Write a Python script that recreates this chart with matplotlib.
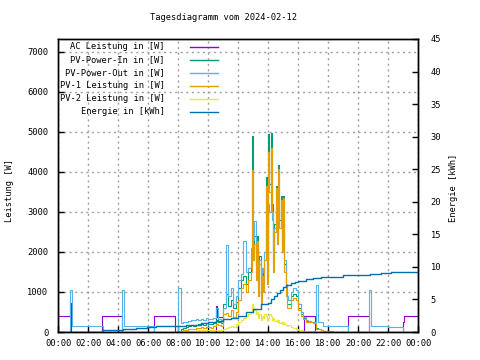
import matplotlib
matplotlib.use("Agg")
import matplotlib.pyplot as plt
from matplotlib.lines import Line2D
import pandas as pd

# ---------------- data ----------------
title = "Tagesdiagramm vom 2024-02-12"
labels = ["AC Leistung in [W]", "PV-Power-In in [W]", "PV-Power-Out in [W]",
          "PV-1 Leistung in [W]", "PV-2 Leistung in [W]", "Energie in [kWh]"]
colors = ["#9400d3", "#009e73", "#56b4e9", "#e69f00", "#f0e442", "#0072b2"]

xtick_hours = list(range(0, 25, 2))
xtick_labels = ["00:00", "02:00", "04:00", "06:00", "08:00", "10:00", "12:00",
                "14:00", "16:00", "18:00", "20:00", "22:00", "00:00"]

# daytime sample times: 10 min until 12:40, 5 min 12:50-15:15, 10 min 15:20-18:00
idx_a = pd.date_range("2024-02-12 08:00", "2024-02-12 12:40", freq="10min")
idx_b = pd.date_range("2024-02-12 12:50", "2024-02-12 15:15", freq="5min")
idx_c = pd.date_range("2024-02-12 15:20", "2024-02-12 18:00", freq="10min")
day_index = idx_a.append(idx_b).append(idx_c)
day_hours = list(day_index.hour + day_index.minute / 60.0)

pv_out_day = [1090, 230, 240, 260, 280, 300, 300, 320, 300, 330, 310, 350, 320, 330, 340, 590,
              320, 300, 600, 2180, 900, 1100, 700, 900, 1300, 1450, 2280, 1500, 1600,
              2100, 2000, 2300, 2770, 1800, 2200, 1500, 1800, 1300, 1600, 1500, 2000, 2600,
              1800, 3200, 3000, 3500, 2800, 2000, 2600, 2800, 2500, 3000, 2600, 2800, 2300,
              2700, 1800, 1200, 900,
              800, 1000, 1100, 1050, 700, 500, 370, 300, 280, 250, 250, 1180, 250, 250,
              150, 150, 150]
pv_in_day = [0, 80, 100, 120, 150, 170, 140, 180, 190, 200, 180, 220, 200, 190, 230, 300,
             260, 220, 700, 950, 650, 800, 600, 750, 1100, 1300, 1400, 1200, 1500,
             1700, 4900, 2000, 2400, 1500, 2400, 1100, 1900, 900, 1600, 1200, 2000, 3880,
             1400, 4950, 3700, 4980, 3200, 1700, 2700, 3650, 2400, 4180, 2800, 3400, 2200,
             3400, 1700, 1100, 700,
             700, 900, 950, 900, 600, 450, 350, 280, 280, 260, 250, 100, 80, 60,
             30, 30, 20]
pv1_day = [0, 30, 50, 60, 70, 80, 70, 100, 110, 120, 110, 130, 120, 110, 140, 200,
           170, 150, 450, 470, 400, 550, 380, 500, 800, 1100, 1200, 1000, 1300,
           1500, 4050, 1800, 2200, 1300, 2270, 900, 1700, 700, 1400, 1000, 1800, 3640,
           1200, 4500, 3500, 4600, 3000, 1500, 2500, 3600, 2200, 4080, 2600, 3300, 2000,
           3340, 1500, 900, 600,
           600, 800, 850, 800, 550, 400, 330, 260, 250, 250, 220, 80, 70, 50,
           25, 25, 20]
pv2_day = [0, 10, 20, 20, 30, 30, 30, 40, 40, 40, 50, 50, 50, 40, 60, 60,
           60, 50, 80, 100, 120, 150, 120, 200, 250, 300, 350, 400, 450,
           500, 700, 600, 550, 450, 500, 350, 450, 300, 400, 350, 450, 400,
           300, 350, 450, 400, 300, 350, 280, 300, 250, 300, 220, 250, 200,
           250, 200, 180, 150,
           180, 120, 100, 80, 60, 50, 30, 20, 20, 20, 20, 10, 0, 0,
           0, 0, 0]

# PV-Power-Out outside daytime samples
pv_out_night_t = [0.0, 0.8, 0.93, 2.98, 4.27, 4.4, 6.4]
pv_out_night_v = [0, 1060, 150, 0, 1060, 150, 0]
pv_out_eve_t = [18.17, 19.35, 20.73, 20.87, 22.0, 23.0, 24.0]
pv_out_eve_v = [150, 0, 1060, 150, 120, 0, 0]

# AC Leistung breakpoints
ac_t = [0.0, 0.8, 0.87, 2.95, 4.27, 6.4, 7.8, 10.5, 10.6, 11.0,
        16.4, 17.1, 19.35, 20.7, 23.0, 23.08, 24.0]
ac_v = [400, 720, 0, 400, 0, 400, 0, 660, 370, 0,
        390, 0, 400, 0, 250, 400, 400]

# Energy breakpoints (kWh)
e_t = [0.0, 1.5, 2.95, 4.3, 5.2, 5.9, 6.5, 7.5, 8.5, 9.5, 10.0, 10.5, 11.0, 11.5, 12.0,
       12.5, 13.0, 13.5, 14.0, 14.2, 14.4, 14.6, 14.8, 15.0, 15.2, 15.5, 15.8, 16.0, 16.5,
       17.0, 17.5, 18.0, 19.0, 20.0, 20.8, 21.5, 22.2, 24.0]
e_v = [0.0, 0.05, 0.3, 0.4, 0.6, 0.8, 0.85, 0.95, 1.05, 1.4, 1.55, 1.75, 1.95, 2.15, 2.4,
       3.0, 3.6, 4.3, 4.5, 5.0, 5.5, 6.0, 6.5, 6.9, 7.2, 7.5, 7.7, 7.9, 8.1,
       8.3, 8.45, 8.5, 8.7, 8.75, 8.9, 9.05, 9.2, 9.2]

# ---------------- plot ----------------
plt.rcParams['font.family'] = ['DejaVu Sans Mono']
FS = 6.3
LW = 0.8

fig = plt.figure(figsize=(4.8, 3.6), dpi=100)
W, H = 480.0, 360.0
ax = fig.add_axes([58 / W, 28 / H, 360 / W, 293 / H])

tail_t = [18.33, 24.0]
ax.step(ac_t, ac_v, where="post", color=colors[0], lw=LW)
ax.step(day_hours + tail_t, pv_in_day + [0, 0], where="post", color=colors[1], lw=LW)
ax.step(pv_out_night_t + day_hours + pv_out_eve_t,
        pv_out_night_v + pv_out_day + pv_out_eve_v, where="post", color=colors[2], lw=LW)
ax.step(day_hours + tail_t, pv1_day + [0, 0], where="post", color=colors[3], lw=LW)
ax.step(day_hours + tail_t, pv2_day + [0, 0], where="post", color=colors[4], lw=LW)

ax.set_xlim(0, 24)
ax.set_ylim(0, 7320)
ax.set_xticks(xtick_hours)
ax.set_xticklabels(xtick_labels)
ax.set_yticks(range(0, 8000, 1000))
ax.grid(True, color="#a0a0a0", linestyle=(0, (1.5, 2.5)), linewidth=1)
ax.tick_params(direction="in", length=4, width=1, labelsize=FS, colors="black")
ax.tick_params(axis="x", pad=5)
ax.tick_params(axis="y", pad=7)

ax2 = ax.twinx()
ax2.step(e_t, e_v, where="post", color=colors[5], lw=1)
ax2.set_ylim(0, 45)
ax2.set_yticks(range(0, 50, 5))
ax2.tick_params(direction="in", length=4, width=1, labelsize=FS, pad=9)

for a in (ax, ax2):
    for s in a.spines.values():
        s.set_linewidth(1)

fig.text(223 / W, 1 - 18 / H, title, ha="center", va="center", fontsize=FS)
fig.text(10 / W, 1 - 190 / H, "Leistung [W]", rotation=90, ha="center", va="center", fontsize=FS)
fig.text(453 / W, 1 - 188 / H, "Energie [kWh]", rotation=90, ha="center", va="center", fontsize=FS)

# legend (gnuplot style: right-aligned text, sample to the right)
for i, (lab, col) in enumerate(zip(labels, colors)):
    yy = 1 - (46.7 + 13.0 * i) / H
    fig.text(165 / W, yy, lab, ha="right", va="center", fontsize=FS)
    fig.add_artist(Line2D([190 / W, 218 / W], [yy, yy], color=col, lw=1,
                          transform=fig.transFigure))

fig.savefig("out.png", dpi=100)
